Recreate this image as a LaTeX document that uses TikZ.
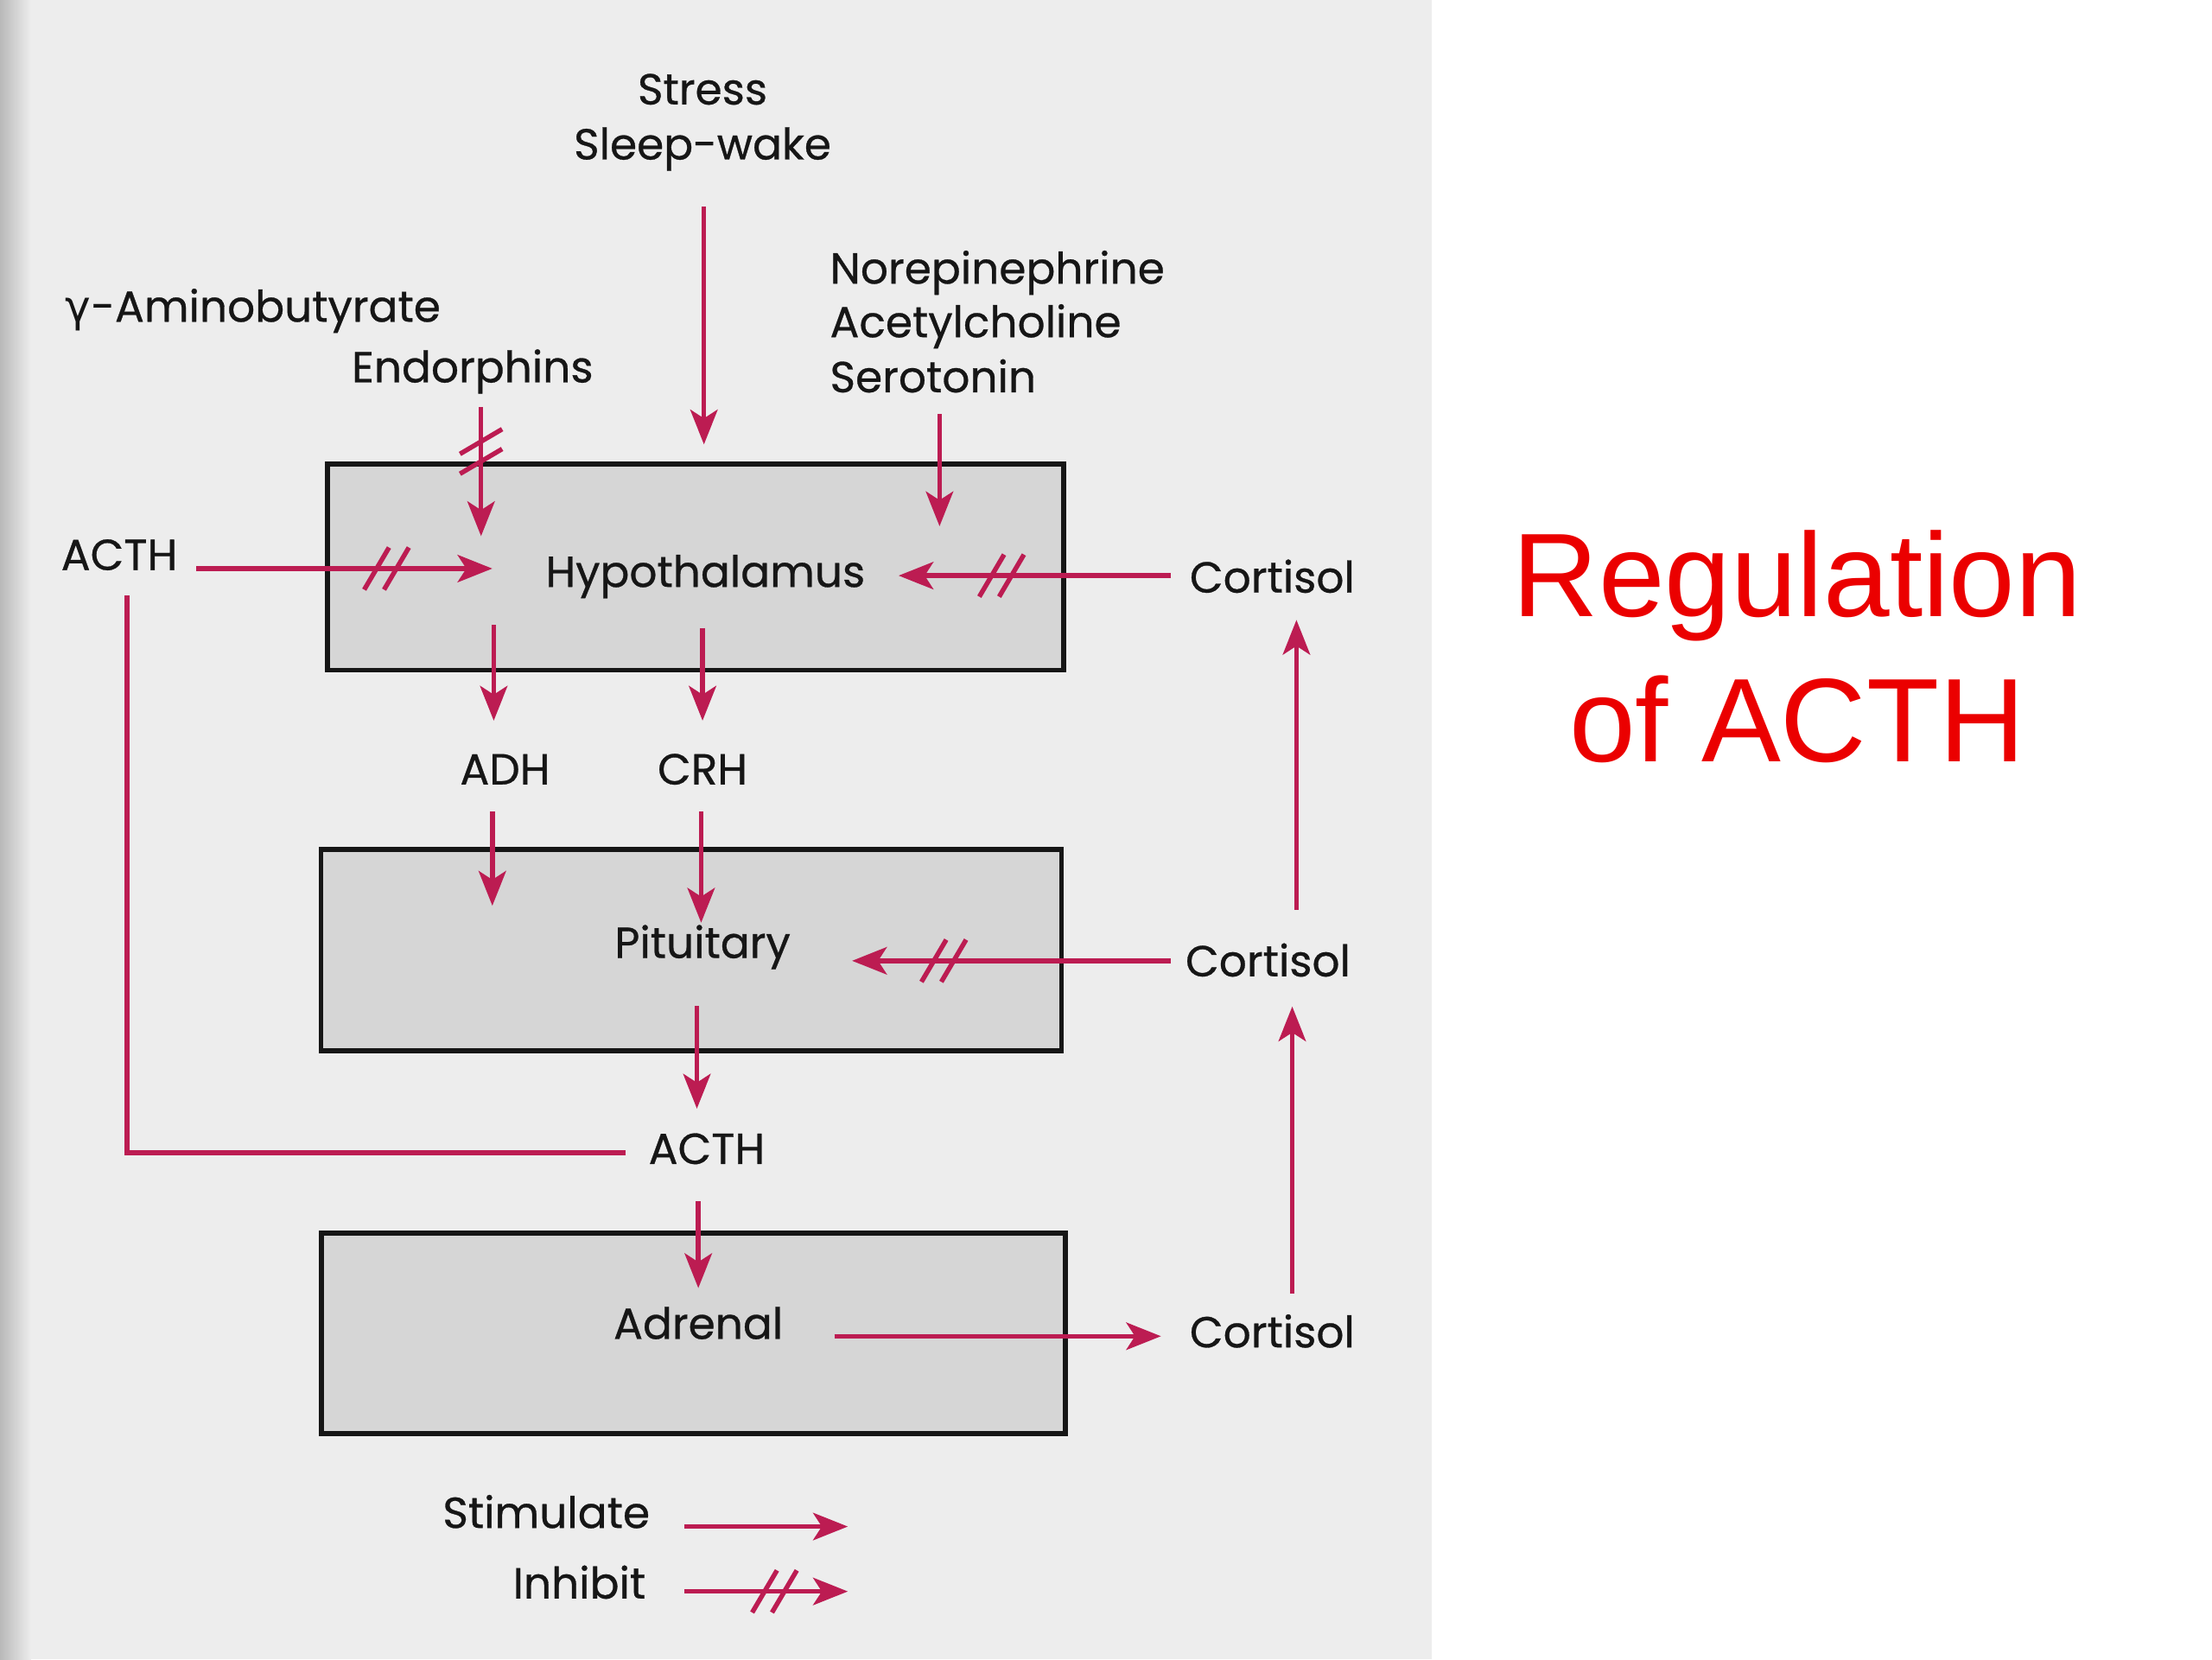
\documentclass[tikz,border=0pt]{standalone}
\usepackage{fontspec}
\setmainfont{Poppins}[FakeBold=0.5]
\newfontfamily\labelfont{Poppins}[FakeBold=0.6]
\newfontfamily\titlefont{Liberation Sans}
\newfontfamily\greekfont{DejaVu Sans}
\usetikzlibrary{arrows.meta,decorations.markings}
\definecolor{hormone}{RGB}{188,28,82}
\definecolor{boxgray}{RGB}{214,214,214}
\definecolor{pagegray}{RGB}{237,237,237}
\definecolor{inkgray}{RGB}{22,22,22}
\definecolor{titlered}{RGB}{235,0,0}
\tikzset{
  lbl/.style={font=\labelfont\fontsize{17.5}{20}\selectfont, text=inkgray, inner sep=0pt, anchor=base, text height=13pt, text depth=4pt},
  gland/.style={draw=inkgray, line width=2pt, fill=boxgray, inner sep=0pt},
  stim/.style={draw=hormone, line width=1.9pt, -{Stealth[length=14pt,width=11pt,inset=3.5pt]}},
  slash/.style={-, draw=hormone, line width=1.9pt, shorten <=0pt, shorten >=0pt},
  inhibit/.style={stim, postaction=decorate, decoration={markings, mark=at position #1 with {\draw[slash] (-9pt,-8.5pt) -- (1pt,8.5pt) (-1pt,-8.5pt) -- (9pt,8.5pt);}}},
  inhibitdown/.style={stim, postaction=decorate, decoration={markings, mark=at position #1 with {\draw[slash] (-9pt,8.5pt) -- (1pt,-8.5pt) (-1pt,8.5pt) -- (9pt,-8.5pt);}}},
  feedback/.style={draw=hormone, line width=1.9pt}
}
\begin{document}
\begin{tikzpicture}[x=0.2mm,y=-0.2mm]
\useasboundingbox (0,0) rectangle (1568,1176);
\fill[white] (0,0) rectangle (1568,1176);
\fill[pagegray] (0,0) rectangle (1015,1176);
\shade[left color=gray!55, right color=pagegray] (0,0) rectangle (22,1176);

\node[gland, minimum width=104.4mm, minimum height=29.2mm] (HB) at (493,402) {};
\node[gland, minimum width=105mm, minimum height=28.6mm] (PB) at (490,673.5) {};
\node[gland, minimum width=105.4mm, minimum height=28.4mm] (AB) at (491.5,945) {};

\node[lbl] (stress) at (498,74) {Stress};
\node[lbl] (sleep) at (498,113) {Sleep-wake};
\node[lbl, anchor=base west] (norepi) at (588,201) {Norepinephrine};
\node[lbl, anchor=base west] (acetyl) at (588,239) {Acetylcholine};
\node[lbl, anchor=base west] (sero) at (588,278) {Serotonin};
\node[lbl, anchor=base west] (gaba) at (46,228) {{\greekfont γ}-Aminobutyrate};
\node[lbl, anchor=base west] (endo) at (249,271) {Endorphins};
\node[lbl, anchor=base west] (acthT) at (43,404) {ACTH};
\node[lbl] (hyp) at (500,416) {Hypothalamus};
\node[lbl, anchor=base west] (cortT) at (843,420) {Cortisol};
\node[lbl] (adh) at (358,556) {ADH};
\node[lbl] (crh) at (498,556) {CRH};
\node[lbl] (pit) at (498,679) {Pituitary};
\node[lbl, anchor=base west] (cortM) at (840,692) {Cortisol};
\node[lbl] (acthB) at (501,825) {ACTH};
\node[lbl] (adr) at (495,949) {Adrenal};
\node[lbl, anchor=base west] (cortB) at (843,955) {Cortisol};
\node[lbl, anchor=base east] (stimT) at (461,1083) {Stimulate};
\node[lbl, anchor=base east] (inhT) at (458,1133) {Inhibit};

\node[font=\titlefont\fontsize{48}{58}\selectfont, text=titlered, anchor=base] (title1) at (1274,437) {Regulation};
\node[font=\titlefont\fontsize{48}{58}\selectfont, text=titlered, anchor=base] (title2) at (1274,540) {of ACTH};

\coordinate (cS) at (499,315);
\coordinate (cE) at (341,380);
\coordinate (cN) at (666,373);
\coordinate (cAh) at (349,403);
\coordinate (cCh) at (637,408);
\coordinate (cH1) at (350,443);
\coordinate (cH2) at (498,445);
\coordinate (cP1) at (349,642);
\coordinate (cP2) at (497,654);
\coordinate (cCp) at (604,681);
\coordinate (cP3) at (494,713);
\coordinate (cA3) at (495,913);
\coordinate (cL) at (90,422);
\coordinate (cU1) at (916,917);
\coordinate (cU2) at (919,645);
\coordinate (cK1) at (601,1082);
\coordinate (cK2) at (601,1128);

\path
  (sleep.south -| cS) edge[stim, shorten <=5.2mm] (cS)
  (cE |- endo.south) edge[inhibitdown=-12mm, shorten <=2mm] (cE)
  (cN |- sero.south) edge[stim, shorten <=1.6mm] (cN)
  (acthT.east |- cAh) edge[inhibit=-15mm, shorten <=2.6mm] (cAh)
  (cortT.west |- cCh) edge[inhibit=-14.6mm, shorten <=2.6mm] (cCh)
  (cH1) edge[stim, shorten >=4.4mm] (cH1 |- adh.north)
  (cH2) edge[stim, shorten >=4.4mm] (cH2 |- crh.north)
  (cP1 |- adh.south) edge[stim, shorten <=2.4mm] (cP1)
  (cP2 |- crh.south) edge[stim, shorten <=2.4mm] (cP2)
  (cortM.west |- cCp) edge[inhibit=-13mm, shorten <=2mm] (cCp)
  (cP3) edge[stim, shorten >=3.2mm] (cP3 |- acthB.north)
  (cA3 |- acthB.south) edge[stim, shorten <=3.8mm] (cA3)
  (adr.east |- cortB.west) edge[stim, shorten <=7.2mm, shorten >=4mm] (cortB.west)
  (cU1 |- cortB.north) edge[stim, shorten <=3mm, shorten >=2.8mm] (cU1 |- cortM.south)
  (cU2 |- cortM.north) edge[stim, shorten <=4.8mm, shorten >=2.4mm] (cU2 |- cortT.south)
  (stimT.east |- cK1) edge[stim, shorten <=4.8mm] (cK1)
  (inhT.east |- cK2) edge[inhibit=-10.4mm, shorten <=5.4mm] (cK2)
;
\draw[feedback, shorten <=3.2mm] (acthB.west) -| (cL);
\end{tikzpicture}
\end{document}
